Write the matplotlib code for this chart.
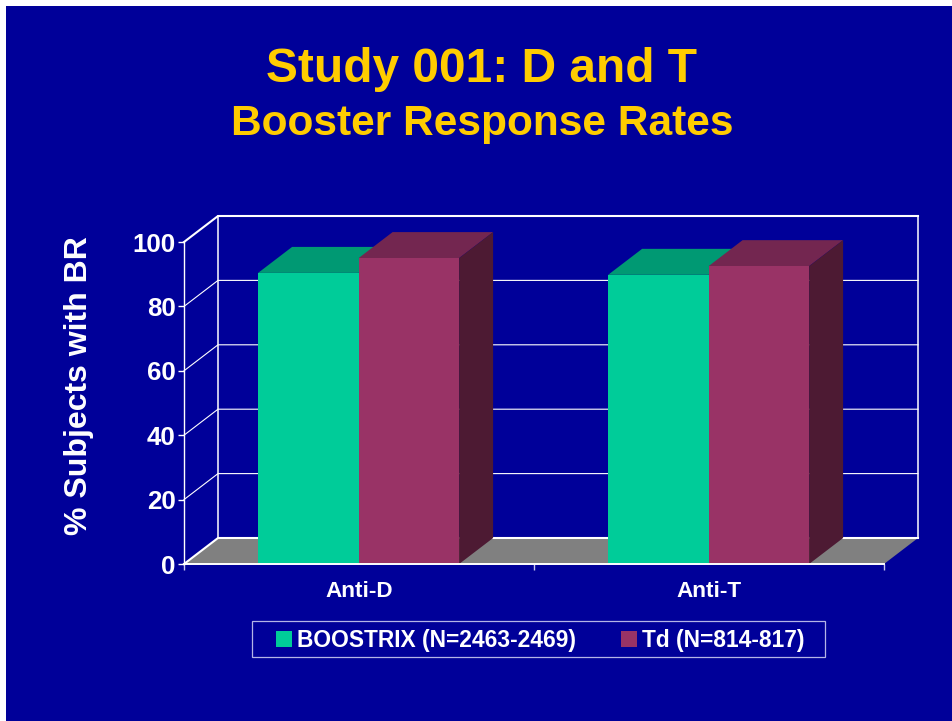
import matplotlib
matplotlib.use("Agg")
import matplotlib.pyplot as plt
from matplotlib.patches import Polygon, Rectangle
from matplotlib.ticker import FixedLocator

plt.rcParams['font.family'] = ['Liberation Sans', 'DejaVu Sans']

categories = ["Anti-D", "Anti-T"]
series_names = ["BOOSTRIX (N=2463-2469)", "Td (N=814-817)"]
boostrix = [90.4, 89.8]
td = [95.0, 92.5]
y_ticks = [0, 20, 40, 60, 80, 100]

W, H = 952, 721
BG = "#000099"
GREEN, GREEN_TOP = "#00CC99", "#009973"
MAROON, MAROON_TOP, MAROON_SIDE = "#993366", "#732650", "#4D1A33"
YELLOW = "#FFCC00"

fig = plt.figure(figsize=(W / 100, H / 100), dpi=100, facecolor="white")
fig.patches.append(Rectangle((6 / W, 0), 1, 1 - 6 / H, transform=fig.transFigure,
                             facecolor=BG, edgecolor="none", zorder=-10))
ax = fig.add_axes([184 / W, 1 - 564 / H, 700 / W, 322 / H], facecolor="none")
ax.set_xlim(0, 2)
ax.set_ylim(0, 100)
DX, DY = 34 / 350, 26 / 3.22   # oblique depth in data units
BAR_W = 100.5 / 350
SHIFT = -0.4 / 350

# floor
ax.add_patch(Polygon([(0, 0), (2, 0), (2 + DX, DY), (DX, DY)], closed=True,
                     facecolor="#808080", edgecolor="none", zorder=1, clip_on=False))
# gridlines on the left and back walls
for v in y_ticks:
    lw = 1.5 if v in (0, 100) else 0.8
    ax.plot([0, DX, 2 + DX], [v, v + DY, v + DY], color="white", lw=lw,
            zorder=2, clip_on=False, solid_joinstyle="miter")
for x in (DX, 2 + DX):
    ax.plot([x, x], [DY, 100 + DY], color="white", lw=1.1, zorder=2, clip_on=False)

positions = [0.5, 1.5]
xl = [p - BAR_W / 2 + SHIFT for p in positions]
xr = [p + BAR_W / 2 + SHIFT for p in positions]
b1 = ax.bar(xl, boostrix, BAR_W, color=GREEN, zorder=3, label=series_names[0])
for x, v in zip(xl, boostrix):
    l = x - BAR_W / 2
    ax.add_patch(Polygon([(l, v), (l + BAR_W, v), (l + BAR_W + DX, v + DY), (l + DX, v + DY)],
                         closed=True, facecolor=GREEN_TOP, edgecolor="none", zorder=2.5,
                         clip_on=False))
b2 = ax.bar(xr, td, BAR_W, color=MAROON, zorder=5, label=series_names[1])
for x, v in zip(xr, td):
    l = x - BAR_W / 2
    r = l + BAR_W
    ax.add_patch(Polygon([(l, v), (r, v), (r + DX, v + DY), (l + DX, v + DY)],
                         closed=True, facecolor=MAROON_TOP, edgecolor="none", zorder=4,
                         clip_on=False))
    ax.add_patch(Polygon([(r, 0), (r + DX, DY), (r + DX, v + DY), (r, v)],
                         closed=True, facecolor=MAROON_SIDE, edgecolor="none", zorder=4,
                         clip_on=False))

for s in ("top", "right"):
    ax.spines[s].set_visible(False)
for s in ("left", "bottom"):
    ax.spines[s].set_color("white")
    ax.spines[s].set_linewidth(1)
    ax.spines[s].set_zorder(6)
ax.spines["bottom"].set_linewidth(1.4)

ax.set_yticks(y_ticks)
ax.tick_params(axis="y", colors="white", length=4.5, width=1, pad=1.5, labelsize=18.6)
for t in ax.get_yticklabels():
    t.set_fontweight("bold")
ax.xaxis.set_major_locator(FixedLocator([0, 1, 2]))
ax.xaxis.set_minor_locator(FixedLocator(positions))
ax.set_xticklabels([])
ax.set_xticklabels(categories, minor=True, fontsize=16.2, fontweight="bold", color="white")
ax.tick_params(axis="x", which="major", colors="#C8C8F0", length=4.5, width=1)
ax.tick_params(axis="x", which="minor", length=0, pad=12)

fig.text(482 / W, 1 - 70 / H, "Study 001: D and T", ha="center", va="center",
         color=YELLOW, fontsize=34.5, fontweight="bold")
fig.text(482 / W, 1 - 124 / H, "Booster Response Rates", ha="center", va="center",
         color=YELLOW, fontsize=30.6, fontweight="bold")
fig.text(79 / W, 1 - 386 / H, "% Subjects with BR", rotation=90, ha="center", va="center",
         color="white", fontsize=23, fontweight="bold")

fig.patches.append(Rectangle((252 / W, 1 - 657 / H), 573 / W, 36 / H, transform=fig.transFigure,
                             facecolor="none", edgecolor="#B4B4E6", linewidth=0.9))
leg = fig.legend(handles=[b1, b2], labels=series_names, ncol=2, loc="center",
                 bbox_to_anchor=(540.5 / W, 1 - 640 / H), frameon=False,
                 handlelength=0.7, handleheight=0.7, handletextpad=0.22,
                 columnspacing=1.97, borderpad=0, borderaxespad=0, labelcolor="white",
                 prop={"weight": "bold", "size": 16.4})

fig.savefig("out.png", dpi=100, facecolor="white")
